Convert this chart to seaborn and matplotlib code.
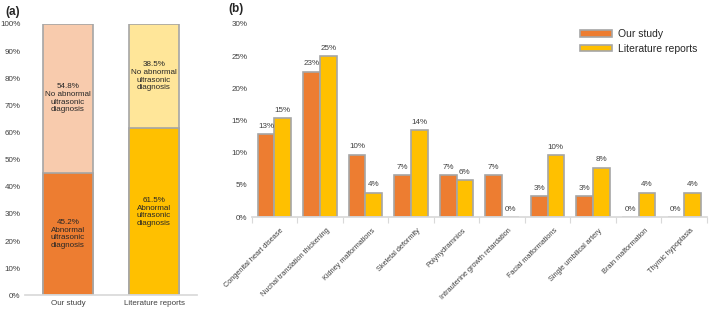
import numpy as np
import pandas as pd
import matplotlib.pyplot as plt
import matplotlib.transforms as mtransforms
import seaborn as sns

# Panel (a) data
grupos = ["Our study", "Literature reports"]
anormal = [45.2, 61.5]
normal = [54.8, 38.5]

# Panel (b) data
hallazgos = ["Congenital heart disease", "Nuchal translation thickening", "Kidney malformations",
             "Skeletal deformity", "Polyhydramnios", "Intrauterine growth retardation",
             "Facial malformations", "Single umbilical artery", "Brain malformation",
             "Thymic hypoplasia"]
nuestro = [12.9, 22.6, 9.7, 6.5, 6.5, 6.5, 3.2, 3.2, 0.0, 0.0]
literatura = [15.4, 25.0, 3.8, 13.5, 5.8, 0.0, 9.6, 7.7, 3.8, 3.8]

naranja, amarillo = "#ED7D31", "#FFC000"
naranja_claro, amarillo_claro = "#F8CBAD", "#FFE699"
borde = "#A6A6A6"
texto = "#404040"

sns.set_theme(style="white")
plt.rcParams['font.family'] = ['Liberation Sans', 'DejaVu Sans']

fig = plt.figure(figsize=(7.09, 3.11), dpi=100)
ax1 = fig.add_axes([0.035, 0.05, 0.243, 0.873])
ax2 = fig.add_axes([0.355, 0.302, 0.642, 0.621])

# ---- (a) barras apiladas
df_a = pd.DataFrame({"grupo": grupos, "anormal": anormal,
                     "total": np.array(anormal) + np.array(normal)})
sns.barplot(data=df_a, x="grupo", y="total", hue="grupo",
            palette=[naranja_claro, amarillo_claro], width=0.58, saturation=1,
            edgecolor=borde, linewidth=1.2, legend=False, ax=ax1)
sns.barplot(data=df_a, x="grupo", y="anormal", hue="grupo",
            palette=[naranja, amarillo], width=0.58, saturation=1,
            edgecolor=borde, linewidth=1.2, legend=False, ax=ax1)
for i in range(len(grupos)):
    ax1.text(i, anormal[i] / 2, f"{anormal[i]}%\nAbnormal\nultrasonic\ndiagnosis",
             ha="center", va="center", fontsize=5.8, color="#262626", linespacing=1.15)
    ax1.text(i, anormal[i] + normal[i] / 2, f"{normal[i]}%\nNo abnormal\nultrasonic\ndiagnosis",
             ha="center", va="center", fontsize=5.8, color="#262626", linespacing=1.15)
ax1.set_ylim(0, 100)
ax1.set_xlim(-0.5, 1.5)
ax1.set_yticks(range(0, 101, 10))
ax1.set_yticklabels([f"{v}%" for v in range(0, 101, 10)])
ax1.tick_params(axis="x", length=0, pad=3)
ax1.set_xlabel("")
ax1.set_ylabel("")

# ---- (b) barras agrupadas
df_b = pd.DataFrame({"hallazgo": hallazgos * 2,
                     "valor": nuestro + literatura,
                     "fuente": ["Our study"] * len(hallazgos) + ["Literature reports"] * len(hallazgos)})
sns.barplot(data=df_b, x="hallazgo", y="valor", hue="fuente",
            palette=[naranja, amarillo], width=0.73, saturation=1,
            edgecolor=borde, linewidth=1.2, ax=ax2)
for cont in ax2.containers:
    ax2.bar_label(cont, labels=[f"{int(v + 0.5)}%" for v in cont.datavalues],
                  padding=3, fontsize=5.8, color=texto)
ax2.set_ylim(0, 30)
ax2.set_xlim(-0.5, len(hallazgos) - 0.5)
ax2.set_yticks(range(0, 31, 5))
ax2.set_yticklabels([f"{v}%" for v in range(0, 31, 5)])
ax2.set_xticks(range(len(hallazgos)))
ax2.set_xticklabels(hallazgos, rotation=45, ha="right", rotation_mode="anchor")
ax2.set_xticks(np.arange(-0.5, len(hallazgos), 1), minor=True)
ax2.tick_params(axis="x", which="minor", bottom=True, length=4, color="#D9D9D9", width=0.8)
ax2.tick_params(axis="x", which="major", bottom=False, length=0, pad=5, labelsize=5.3)
# desplazar etiquetas rotadas un poco a la derecha y abajo
desplaza = mtransforms.ScaledTranslation(0.06, -0.03, fig.dpi_scale_trans)
for lbl in ax2.get_xticklabels():
    lbl.set_transform(lbl.get_transform() + desplaza)
ax2.set_xlabel("")
ax2.set_ylabel("")
leg = ax2.legend(loc="upper right", bbox_to_anchor=(1.0, 1.02), frameon=False,
                 fontsize=7.5, handlelength=3.1, handleheight=0.6, labelspacing=0.4,
                 handletextpad=0.6)
for t in leg.get_texts():
    t.set_color("#262626")

for ax in (ax1, ax2):
    sns.despine(ax=ax, left=True)
    ax.spines["bottom"].set_color("#D9D9D9")
    ax.tick_params(axis="y", left=False, length=0, labelsize=5.8, labelcolor=texto, pad=3)
    ax.tick_params(axis="x", labelcolor=texto)
ax1.tick_params(axis="x", labelsize=5.8)

fig.text(0.007, 0.96, "(a)", fontsize=8.5, fontweight="bold", va="center")
fig.text(0.322, 0.972, "(b)", fontsize=8.5, fontweight="bold", va="center")

plt.savefig("out.png", dpi=100)
plt.close()
